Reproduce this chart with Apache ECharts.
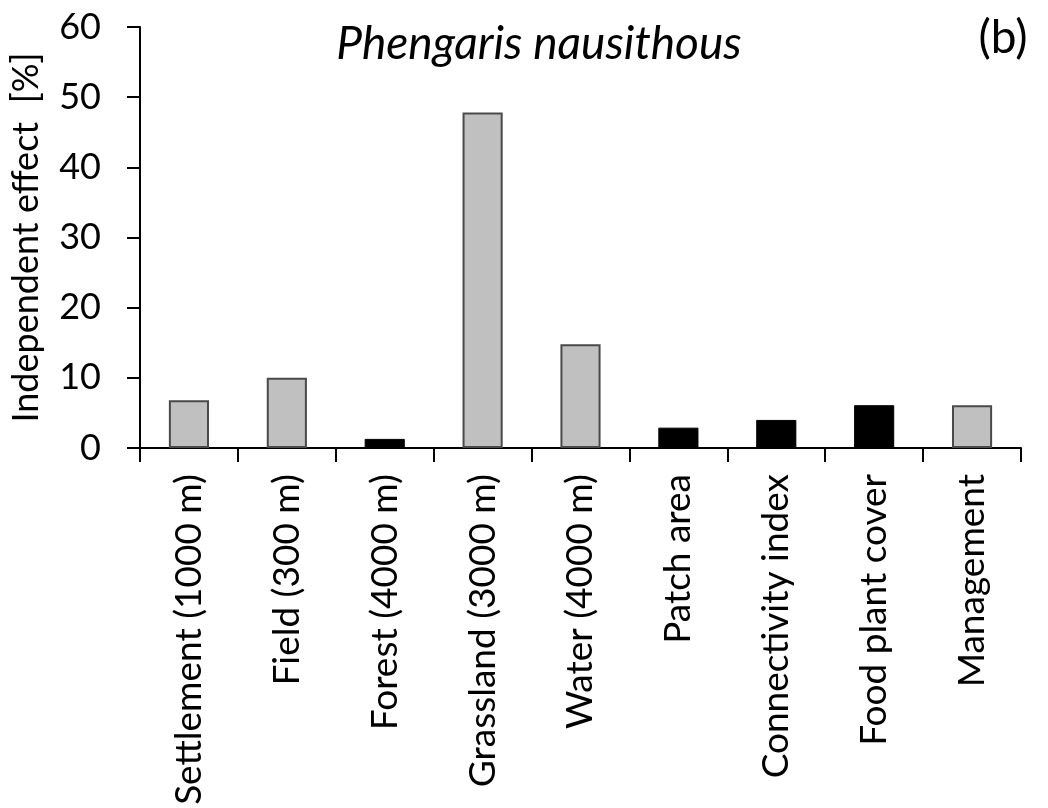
<!DOCTYPE html>
<html><head><meta charset="utf-8">
<script src="https://cdn.jsdelivr.net/npm/echarts@6/dist/echarts.min.js"></script>
<style>html,body{margin:0;padding:0;background:#fff}#c{width:1048px;height:808px}</style>
</head><body><div id="c"></div>
<script>
const categories = ["Settlement (1000 m)","Field (300 m)","Forest (4000 m)","Grassland (3000 m)","Water (4000 m)","Patch area","Connectivity index","Food plant cover","Management"];
const values = [6.8, 10.0, 1.3, 47.8, 14.8, 2.9, 4.0, 6.1, 6.1];
const groups = ["gray","gray","black","gray","gray","black","black","black","gray"];
const yTicks = [0,10,20,30,40,50,60];
const FONT = "Lato, 'Open Sans', sans-serif";
const styles = {
  gray: {color:"#c0c0c0", borderColor:"#4a4a4a", borderWidth:2},
  black: {color:"#000000", borderColor:"#000000", borderWidth:1}
};
const chart = echarts.init(document.getElementById('c'));
chart.setOption({
  animation:false,
  backgroundColor:"#fff",
  grid:{left:139,right:27,top:27,bottom:360,containLabel:false},
  title:[
    {text:"Phengaris nausithous",left:534,top:16,textAlign:"center",textStyle:{fontFamily:FONT,fontStyle:"italic",fontWeight:"normal",fontSize:46,color:"#000"}},
    {text:"(b)",left:998,top:10,textAlign:"center",textStyle:{fontFamily:FONT,fontWeight:"normal",fontSize:46,color:"#000"}}
  ],
  xAxis:{type:"category",data:categories,boundaryGap:true,
    axisLine:{lineStyle:{color:"#000",width:2}},
    axisTick:{show:true,length:14,lineStyle:{color:"#000",width:2},alignWithLabel:false},
    axisLabel:{rotate:90,interval:0,margin:26,fontFamily:FONT,fontSize:37,color:"#000"},
    splitLine:{show:false}},
  yAxis:{type:"value",min:yTicks[0],max:yTicks[yTicks.length-1],interval:10,
    name:"Independent effect  [%]",nameLocation:"middle",nameGap:96,
    nameTextStyle:{fontFamily:FONT,fontSize:36,color:"#000"},
    axisLine:{show:true,lineStyle:{color:"#000",width:2}},
    axisTick:{show:true,length:13,lineStyle:{color:"#000",width:2}},
    axisLabel:{margin:39,fontFamily:FONT,fontSize:36,color:"#000"},
    splitLine:{show:false}},
  series:[{type:"bar",barWidth:"41%",
    data:values.map((v,i)=>({value:v,itemStyle:styles[groups[i]]}))}]
});
</script></body></html>
